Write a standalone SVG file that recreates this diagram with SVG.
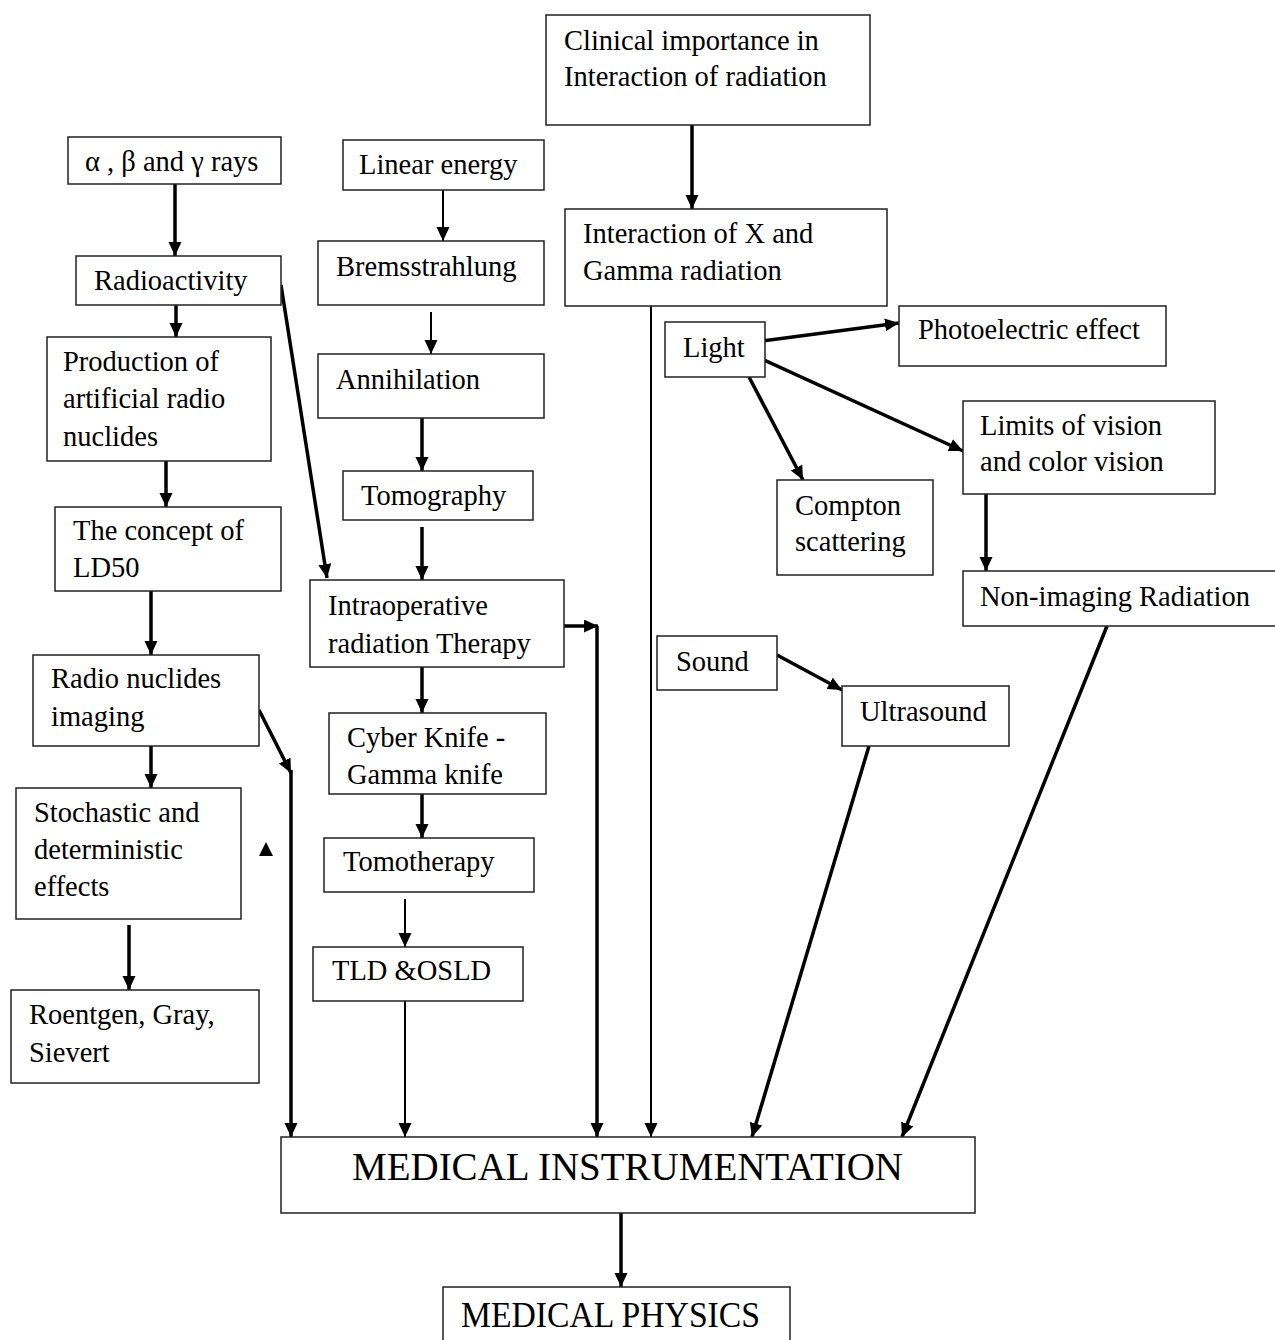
<svg xmlns="http://www.w3.org/2000/svg" width="1275" height="1340" viewBox="0 0 1275 1340">
  <style>
    .box { fill: #fff; stroke: #222; stroke-width: 1.5; }
    .lbl { font-family: "Liberation Serif", "Times New Roman", serif; font-size: 28.5px; fill: #000; }
    .big { font-family: "Liberation Serif", "Times New Roman", serif; fill: #000; }
    .wire { fill: none; stroke: #000; stroke-width: 2; }
    .heavy { fill: none; stroke: #000; stroke-width: 3.5; }
  </style>
  <defs>
    <marker id="head" markerUnits="userSpaceOnUse" markerWidth="16" markerHeight="14" refX="14" refY="6.5" orient="auto">
      <path d="M0,0 L14,6.5 L0,13 z" fill="#000"/>
    </marker>
  </defs>

  <rect width="1275" height="1340" fill="#fff"/>

  <!-- connectors -->
  <g id="connectors">
    <line class="heavy" x1="692" y1="125" x2="692" y2="209" marker-end="url(#head)"/>
    <line class="heavy" x1="175" y1="184" x2="175" y2="256" marker-end="url(#head)"/>
    <line class="wire" x1="443" y1="190" x2="443" y2="241" marker-end="url(#head)"/>
    <line class="heavy" x1="176" y1="305" x2="176" y2="337" marker-end="url(#head)"/>
    <line class="heavy" x1="281" y1="285" x2="327" y2="578" marker-end="url(#head)"/>
    <line class="wire" x1="431" y1="312" x2="431" y2="354" marker-end="url(#head)"/>
    <line class="heavy" x1="422" y1="418" x2="422" y2="471" marker-end="url(#head)"/>
    <line class="heavy" x1="422" y1="527" x2="422" y2="580" marker-end="url(#head)"/>
    <line class="heavy" x1="166" y1="461" x2="166" y2="507" marker-end="url(#head)"/>
    <line class="heavy" x1="151" y1="591" x2="151" y2="655" marker-end="url(#head)"/>
    <line class="heavy" x1="151" y1="746" x2="151" y2="788" marker-end="url(#head)"/>
    <line class="heavy" x1="129" y1="925" x2="129" y2="990" marker-end="url(#head)"/>
    <line class="heavy" x1="259" y1="710" x2="291" y2="773" marker-end="url(#head)"/>
    <line class="heavy" x1="291" y1="770" x2="291" y2="1137" marker-end="url(#head)"/>
    <line class="heavy" x1="422" y1="667" x2="422" y2="713" marker-end="url(#head)"/>
    <line class="heavy" x1="422" y1="794" x2="422" y2="838" marker-end="url(#head)"/>
    <line class="wire" x1="405" y1="899" x2="405" y2="947" marker-end="url(#head)"/>
    <line class="wire" x1="405" y1="1001" x2="405" y2="1137" marker-end="url(#head)"/>
    <line class="heavy" x1="564" y1="626" x2="598" y2="626" marker-end="url(#head)"/>
    <line class="heavy" x1="597" y1="626" x2="597" y2="1137" marker-end="url(#head)"/>
    <line class="wire" x1="651" y1="306" x2="651" y2="1137" marker-end="url(#head)"/>
    <line class="heavy" x1="762" y1="341" x2="899" y2="323" marker-end="url(#head)"/>
    <line class="heavy" x1="762" y1="359" x2="963" y2="451" marker-end="url(#head)"/>
    <line class="heavy" x1="749" y1="377" x2="803" y2="480" marker-end="url(#head)"/>
    <line class="heavy" x1="986" y1="494" x2="986" y2="571" marker-end="url(#head)"/>
    <line class="heavy" x1="777" y1="655" x2="842" y2="690" marker-end="url(#head)"/>
    <line class="heavy" x1="869" y1="746" x2="752" y2="1137" marker-end="url(#head)"/>
    <line class="heavy" x1="1107" y1="626" x2="902" y2="1137" marker-end="url(#head)"/>
    <line class="heavy" x1="621" y1="1213" x2="621" y2="1287" marker-end="url(#head)"/>
    <!-- loose arrowhead beside the effects box -->
    <polygon points="259,856 273,856 266,842" fill="#000"/>
  </g>

  <!-- nodes -->
  <g id="clinical">
    <rect class="box" x="546" y="15" width="324" height="110"/>
    <text class="lbl" x="564" y="50">Clinical importance in</text>
    <text class="lbl" x="564" y="86">Interaction of radiation</text>
  </g>
  <g id="rays">
    <rect class="box" x="68" y="137" width="213" height="47"/>
    <text class="lbl" x="85" y="171">α , β and γ rays</text>
  </g>
  <g id="linear-energy">
    <rect class="box" x="343" y="140" width="201" height="50"/>
    <text class="lbl" x="359" y="174">Linear energy</text>
  </g>
  <g id="interaction-xg">
    <rect class="box" x="565" y="209" width="322" height="97"/>
    <text class="lbl" x="583" y="243">Interaction of X and</text>
    <text class="lbl" x="583" y="280">Gamma radiation</text>
  </g>
  <g id="radioactivity">
    <rect class="box" x="76" y="256" width="205" height="49"/>
    <text class="lbl" x="94" y="290">Radioactivity</text>
  </g>
  <g id="bremsstrahlung">
    <rect class="box" x="318" y="241" width="226" height="64"/>
    <text class="lbl" x="336" y="276">Bremsstrahlung</text>
  </g>
  <g id="photoelectric">
    <rect class="box" x="899" y="306" width="267" height="60"/>
    <text class="lbl" x="918" y="339">Photoelectric effect</text>
  </g>
  <g id="light">
    <rect class="box" x="665" y="322" width="100" height="55"/>
    <text class="lbl" x="683" y="357">Light</text>
  </g>
  <g id="production">
    <rect class="box" x="47" y="337" width="224" height="124"/>
    <text class="lbl" x="63" y="371">Production of</text>
    <text class="lbl" x="63" y="408">artificial radio</text>
    <text class="lbl" x="63" y="446">nuclides</text>
  </g>
  <g id="annihilation">
    <rect class="box" x="318" y="354" width="226" height="64"/>
    <text class="lbl" x="336" y="389">Annihilation</text>
  </g>
  <g id="limits-vision">
    <rect class="box" x="963" y="401" width="252" height="93"/>
    <text class="lbl" x="980" y="435">Limits of vision</text>
    <text class="lbl" x="980" y="471">and color vision</text>
  </g>
  <g id="tomography">
    <rect class="box" x="343" y="471" width="190" height="49"/>
    <text class="lbl" x="361" y="505">Tomography</text>
  </g>
  <g id="compton">
    <rect class="box" x="777" y="480" width="156" height="95"/>
    <text class="lbl" x="795" y="515">Compton</text>
    <text class="lbl" x="795" y="551">scattering</text>
  </g>
  <g id="ld50">
    <rect class="box" x="55" y="507" width="226" height="84"/>
    <text class="lbl" x="73" y="540">The concept of</text>
    <text class="lbl" x="73" y="577">LD50</text>
  </g>
  <g id="intraoperative">
    <rect class="box" x="310" y="580" width="254" height="87"/>
    <text class="lbl" x="328" y="615">Intraoperative</text>
    <text class="lbl" x="328" y="653">radiation Therapy</text>
  </g>
  <g id="non-imaging">
    <rect class="box" x="963" y="571" width="320" height="55"/>
    <text class="lbl" x="980" y="606">Non-imaging Radiation</text>
  </g>
  <g id="sound">
    <rect class="box" x="657" y="636" width="120" height="54"/>
    <text class="lbl" x="676" y="671">Sound</text>
  </g>
  <g id="radionuclide-imaging">
    <rect class="box" x="33" y="655" width="226" height="91"/>
    <text class="lbl" x="51" y="688">Radio nuclides</text>
    <text class="lbl" x="51" y="726">imaging</text>
  </g>
  <g id="ultrasound">
    <rect class="box" x="842" y="686" width="167" height="60"/>
    <text class="lbl" x="860" y="721">Ultrasound</text>
  </g>
  <g id="cyber-knife">
    <rect class="box" x="329" y="713" width="217" height="81"/>
    <text class="lbl" x="347" y="747">Cyber Knife -</text>
    <text class="lbl" x="347" y="784">Gamma knife</text>
  </g>
  <g id="effects">
    <rect class="box" x="16" y="788" width="225" height="131"/>
    <text class="lbl" x="34" y="822">Stochastic and</text>
    <text class="lbl" x="34" y="859">deterministic</text>
    <text class="lbl" x="34" y="896">effects</text>
  </g>
  <g id="tomotherapy">
    <rect class="box" x="324" y="838" width="210" height="54"/>
    <text class="lbl" x="343" y="871">Tomotherapy</text>
  </g>
  <g id="tld-osld">
    <rect class="box" x="313" y="947" width="210" height="54"/>
    <text class="lbl" x="332" y="980">TLD &amp;OSLD</text>
  </g>
  <g id="units">
    <rect class="box" x="11" y="990" width="248" height="93"/>
    <text class="lbl" x="29" y="1024">Roentgen, Gray,</text>
    <text class="lbl" x="29" y="1062">Sievert</text>
  </g>
  <g id="medical-instrumentation">
    <rect class="box" x="281" y="1137" width="694" height="76"/>
    <text class="big" x="352" y="1180" font-size="40" textLength="551" lengthAdjust="spacingAndGlyphs">MEDICAL INSTRUMENTATION</text>
  </g>
  <g id="medical-physics">
    <rect class="box" x="443" y="1287" width="347" height="60"/>
    <text class="big" x="461" y="1327" font-size="36" textLength="299" lengthAdjust="spacingAndGlyphs">MEDICAL PHYSICS</text>
  </g>
</svg>
